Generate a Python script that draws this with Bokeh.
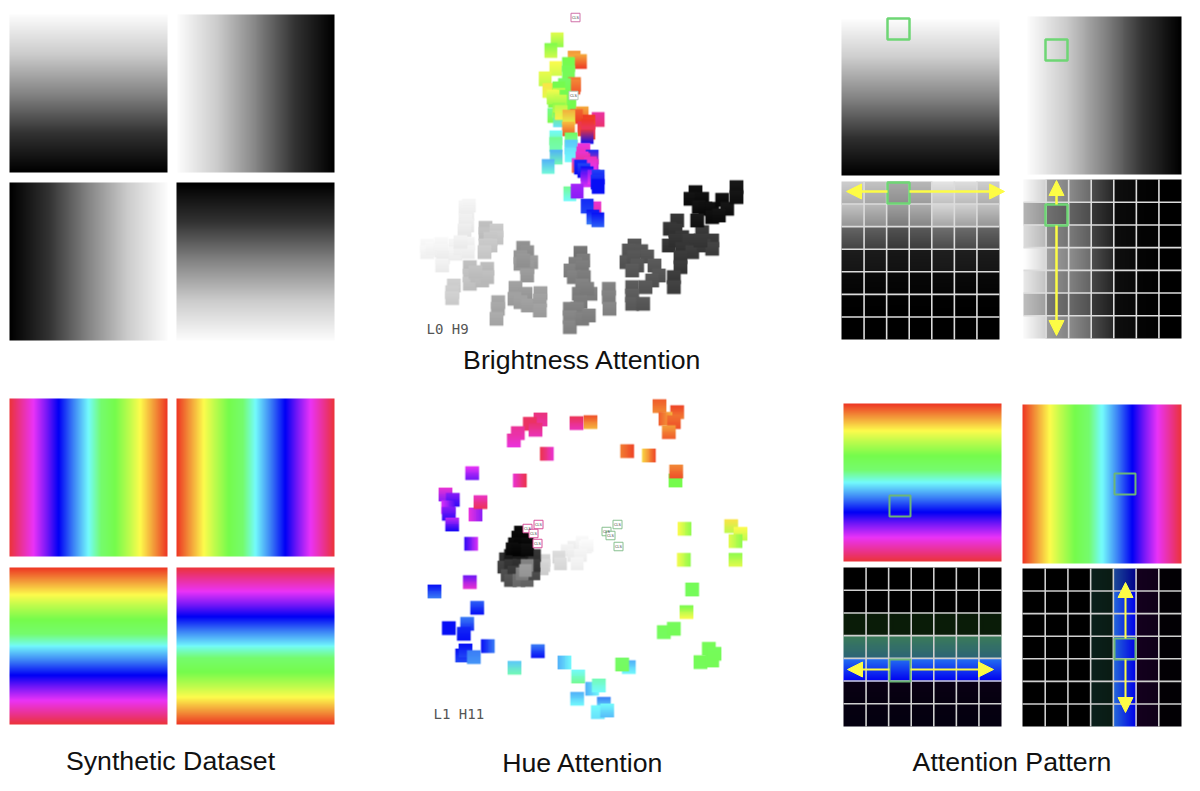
import numpy as np
from bokeh.plotting import figure
from bokeh.models import Range1d, Arrow, NormalHead
from bokeh.core.properties import value
from bokeh.embed import file_html
from bokeh.resources import INLINE

# ---------- colour scales ----------
rainbow_pos = [0.0, 0.085, 0.17, 0.24, 0.33, 0.42, 0.50, 0.60, 0.69, 0.77, 0.85, 0.93, 1.0]
rainbow_rgb = [(238, 56, 36), (243, 155, 58), (254, 251, 76), (190, 251, 76), (117, 251, 76),
               (117, 251, 110), (115, 251, 253), (58, 125, 246), (0, 0, 245), (125, 25, 247),
               (234, 51, 247), (234, 50, 150), (236, 52, 60)]
gray_pos = [0.0, 0.25, 0.5, 0.75, 1.0]
gray_val = [0.99, 0.80, 0.52, 0.20, 0.0]

# ---------- panels: left, top, right, bottom, kind ----------
synthetic_gray = [(9, 14, 167, 172, "down"), (177, 14, 334, 172, "right"),
                  (9, 182, 167, 340, "left"), (176, 182, 334, 340, "up")]
synthetic_hue = [(9, 398, 167, 556, "rev_h"), (176, 398, 334, 556, "fwd_h"),
                 (9, 567, 167, 724, "fwd_v"), (176, 567, 334, 724, "rev_v")]
pattern_gray = [(841, 19, 999, 175, "down"), (1027, 16, 1181, 174, "right")]
pattern_hue = [(843, 403, 1001, 561, "fwd_v"), (1022, 404, 1181, 563, "fwd_h")]

# ---------- attention grids (7 x 7), values from the picture ----------
gl_row_top = [0.85, 0.80, 0.42, 0.12, 0.04, 0.01, 0.0]
gl_row_bot = [0.72, 0.62, 0.28, 0.09, 0.02, 0.0, 0.0]
gl_col = [0.95, 0.90, 0.78, 0.85, 1.05, 1.02, 0.95]
gr_col_left = [0.98, 0.62, 0.55, 0.30, 0.06, 0.02, 0.0]
gr_col_right = [0.82, 0.52, 0.42, 0.16, 0.04, 0.01, 0.0]
gr_row = [1.0, 0.72, 0.88, 1.02, 0.93, 0.76, 1.0]
hl_rows_top = ["#000000", "#000000", "#0a1c08", "#3c7c58", "#2470f0", "#0a0014", "#060010"]
hl_rows_bot = ["#000000", "#000000", "#0a1c08", "#2c6478", "#0000f0", "#060010", "#040010"]
hr_cols_left = ["#000000", "#000000", "#000000", "#0a201c", "#2468d8", "#14001e", "#040006"]
hr_cols_right = ["#000000", "#000000", "#000000", "#0a1c14", "#0000e8", "#10001a", "#020004"]
hr_first_row_left = "#1c4a98"
hr_first_row_right = "#00008c"
grid_gray_left = (841, 181, 999, 339)
grid_gray_right = (1023, 179, 1181, 338)
grid_hue_left = (843, 567, 1001, 726)
grid_hue_right = (1022, 568, 1181, 726)

# ---------- green selection squares: left, top, right, bottom ----------
box_bright = [(887, 18, 909, 39), (887, 182, 909, 203), (1045, 39, 1067, 60), (1045, 204, 1067, 225)]
box_hue = [(889, 495, 910, 516), (889, 659, 910, 681), (1114, 473, 1135, 494), (1114, 638, 1135, 659)]

# ---------- yellow arrows: x0, y0, x1, y1, width ----------
arrows = [(887, 191, 846, 191, 2.5), (909, 191, 1004, 191, 2.5),
          (1056, 204, 1056, 180, 2.5), (1056, 225, 1056, 335, 2.5),
          (889, 669, 847, 669, 2.0), (910, 669, 993, 669, 2.0),
          (1125, 638, 1125, 582, 2.0), (1125, 659, 1125, 712, 2.0)]

# ---------- brightness embedding (crop units): x, y, gray ----------
bright_gray = [
    (165, 620, .95), (175, 615, .95), (170, 640, .93), (165, 660, .93), (170, 675, .92), (162, 690, .92),
    (50, 735, .96), (50, 755, .96), (65, 745, .96), (92, 730, .96), (92, 750, .95), (97, 770, .93), (95, 795, .94),
    (135, 735, .95), (135, 760, .95), (150, 745, .95), (172, 730, .94), (172, 755, .94), (150, 725, .94),
    (225, 682, .74), (225, 700, .75), (258, 690, .78), (258, 712, .78), (240, 715, .77), (225, 735, .78), (240, 735, .78), (222, 755, .79),
    (178, 800, .74), (178, 825, .75), (178, 850, .76), (200, 825, .75), (215, 840, .74), (230, 805, .73), (230, 830, .74), (195, 815, .75),
    (130, 855, .8), (125, 875, .8), (125, 893, .81),
    (338, 742, .56), (350, 755, .56), (330, 770, .58), (362, 785, .6), (330, 790, .6), (350, 800, .6), (350, 825, .6), (338, 780, .58),
    (315, 862, .62), (345, 880, .6), (312, 895, .62), (330, 905, .62), (352, 915, .62), (390, 878, .62), (388, 900, .62), (388, 930, .62),
    (263, 905, .65), (262, 925, .65), (258, 955, .66),
    (510, 757, .45), (518, 780, .47), (495, 790, .48), (480, 810, .5), (515, 800, .48), (490, 830, .5), (520, 830, .48),
    (515, 855, .5), (505, 880, .48), (540, 880, .5), (530, 865, .49), (510, 905, .48),
    (478, 925, .5), (500, 925, .5), (478, 950, .52), (478, 980, .52), (515, 955, .5), (535, 945, .5),
    (595, 865, .5), (595, 890, .5), (597, 925, .52),
    (672, 735, .32), (655, 750, .33), (692, 752, .33), (648, 785, .33), (670, 770, .33), (710, 768, .33), (680, 795, .33), (665, 810, .34),
    (732, 795, .34), (745, 825, .33), (725, 840, .33), (705, 860, .34), (665, 860, .35), (665, 885, .36), (665, 910, .36), (698, 910, .34),
    (800, 660, .2), (778, 685, .2), (795, 690, .2), (815, 710, .2), (775, 735, .2), (795, 720, .2), (835, 720, .22), (815, 745, .2), (845, 755, .23),
    (875, 695, .22), (905, 720, .22), (880, 735, .23), (905, 745, .25), (870, 720, .22), (810, 770, .22), (810, 800, .22), (790, 830, .23), (790, 860, .25),
    (855, 575, .05), (840, 595, .06), (875, 595, .05), (865, 620, .06), (885, 625, .05), (860, 660, .08), (905, 625, .05), (905, 650, .05),
    (935, 598, .05), (950, 625, .07), (925, 645, .06), (978, 560, .08), (978, 590, .07),
]
# x, y, hue at the tile's top, hue at the tile's bottom
bright_hue = [
    (440, 118, .20, .30), (421, 150, .32, .22), (491, 173, .08, .13), (510, 183, .10, .0),
    (436, 204, .17, .22), (474, 192, .33, .36), (474, 218, .36, .37), (404, 235, .19, .24),
    (492, 252, .06, .02), (490, 260, .07, .02), (428, 272, .14, .24), (415, 270, .15, .2), (462, 255, .40, .34), (445, 265, .34, .33),
    (432, 300, .30, .32), (478, 318, .33, .34), (445, 285, .22, .30), (460, 290, .34, .36), (428, 290, .18, .28),
    (450, 305, .22, .30), (430, 345, .44, .32), (445, 330, .30, .22),
    (447, 358, .34, .52), (452, 336, .24, .16), (515, 340, .10, .03), (498, 348, .04, .0), (475, 350, .10, .2),
    (563, 357, .92, .96), (535, 365, .0, .03), (520, 385, .98, .02), (535, 395, .96, .0), (532, 378, .0, .95), (530, 408, 1.0, .68), (474, 385, .12, .02),
    (436, 412, .50, .44), (436, 432, .44, .46), (482, 418, .38, .46), (482, 440, .54, .52),
    (482, 463, .52, .50), (437, 470, .56, .46), (413, 498, .56, .48), (503, 495, .86, .05),
    (520, 450, .87, .90), (517, 460, .88, .92), (545, 470, .66, .92), (520, 480, .9, .98), (515, 475, .88, .95), (545, 498, .9, .8), (540, 490, .9, .85),
    (510, 500, .66, .68), (520, 510, .64, .70), (530, 520, .68, .85), (530, 538, .75, .84), (550, 530, .78, .86), (563, 530, .64, .70), (560, 545, .65, .70), (563, 558, .68, .68),
    (478, 580, .44, .50), (500, 572, .80, .78), (553, 625, .88, .92), (530, 617, .66, .64),
    (547, 650, .68, .60), (562, 658, .68, .62),
]

# ---------- hue embedding (crop units) ----------
hue_gray = [
    (490, 470, .93), (515, 455, .96), (525, 470, .97), (530, 465, .97), (470, 480, .94), (490, 495, .93), (510, 495, .95), (500, 520, .95),
    (445, 500, .85), (450, 520, .86), (400, 510, .82), (400, 525, .84), (395, 535, .82),
    (285, 505, .18), (300, 495, .1), (325, 500, .1), (350, 495, .12), (372, 495, .2), (280, 530, .25), (300, 525, .2), (325, 525, .18),
    (290, 555, .3), (310, 545, .22), (300, 570, .32), (325, 570, .42), (350, 570, .4), (370, 550, .3), (370, 525, .22), (350, 525, .5), (335, 550, .5), (345, 540, .6),
    (330, 425, .02), (322, 440, .02), (340, 440, .02), (312, 460, .03), (330, 460, .02), (350, 460, .03), (305, 475, .04), (325, 478, .03), (350, 478, .05),
]
# x, y, hue start, hue end, gradient direction (0 top-bottom, 1 left-right)
hue_color = [
    (747, 47, .03, .07, 0), (800, 65, .01, .06, 0), (765, 85, .03, .11, 1), (790, 95, .05, .02, 0), (775, 125, .09, .03, 0),
    (650, 182, .06, .01, 1), (715, 195, .14, .01, 1), (795, 270, .33, .33, 0), (797, 243, .07, .02, 0),
    (540, 95, .02, .11, 0), (498, 98, .98, .9, 0), (390, 87, .95, .92, 0), (358, 100, .97, .97, 0),
    (375, 118, .96, .9, 0), (322, 128, .93, .9, 0), (310, 150, .92, .87, 0), (409, 190, .99, .88, 1), (328, 270, .88, .99, 1),
    (185, 248, .85, .76, 0), (105, 312, .88, .78, 0), (127, 328, .78, .72, 0), (113, 350, .84, .74, 1), (115, 370, .78, .72, 0),
    (125, 402, .82, .70, 0), (195, 372, .87, .78, 1), (210, 335, .89, .98, 0), (182, 460, .72, .84, 1), (178, 575, .76, .88, 0),
    (72, 603, .68, .60, 0), (200, 652, .62, .68, 0), (115, 713, .68, .68, 0), (170, 700, .60, .66, 0), (160, 730, .66, .68, 0),
    (232, 767, .68, .60, 1), (155, 795, .68, .64, 0), (165, 780, .68, .64, 0), (190, 800, .60, .58, 0), (382, 782, .60, .68, 0),
    (312, 832, .54, .46, 0), (462, 816, .56, .50, 1), (503, 858, .5, .44, 0), (500, 925, .56, .5, 0), (545, 895, .56, .5, 1),
    (565, 885, .46, .5, 0), (580, 940, .60, .50, 0), (562, 965, .5, .52, 0), (590, 960, .5, .55, 0), (655, 830, .56, .50, 0),
    (635, 822, .40, .38, 0), (760, 725, .37, .38, 0), (790, 715, .37, .36, 0), (870, 815, .36, .37, 0), (905, 810, .37, .36, 0),
    (895, 775, .36, .36, 0), (912, 790, .37, .36, 0), (828, 665, .33, .17, 0), (845, 597, .36, .37, 0), (820, 508, .18, .30, 1),
    (822, 415, .17, .30, 1), (962, 407, .15, .24, 0), (990, 430, .17, .24, 0), (975, 452, .20, .30, 1), (975, 508, .30, .20, 0),
]

# ---------- labelled token boxes: x, y (page units), colour ----------
token_x = [575, 573, 527, 538, 533, 537, 617, 606, 610, 618]
token_y = [17, 95, 528, 524, 533, 543, 524, 531, 535, 546]
token_color = ["#d070a8", "#b8c8b8", "#d8509a", "#d8509a", "#d8509a", "#d8509a",
               "#88c090", "#88c090", "#88c090", "#88c090"]
token_label = "CLS"

# ---------- texts ----------
caption_text = ["Brightness Attention", "Synthetic Dataset", "Hue Attention", "Attention Pattern"]
caption_x = [582, 170, 582.5, 1011.5]
caption_y = [359, 760, 762, 761]
corner_text = ["L0 H9", "L1 H11"]
corner_x = [426, 433]
corner_y = [328, 713]


# ---------- helpers ----------
def hex_rgb(h):
    return np.array([int(h[i:i + 2], 16) for i in (1, 3, 5)], float)


def rainbow(t):
    t = np.asarray(t, float)
    r = np.array(rainbow_rgb, float)
    return np.stack([np.interp(t, rainbow_pos, r[:, i]) for i in range(3)], axis=-1)


def to_rgba(rgb, alpha=None):
    rgb = np.clip(rgb, 0, 255).astype(np.uint32)
    a = np.full(rgb.shape[:2], 255, np.uint32) if alpha is None else alpha.astype(np.uint32)
    return (a << 24) | (rgb[..., 2] << 16) | (rgb[..., 1] << 8) | rgb[..., 0]


def panel_image(kind, n=158):
    u = np.linspace(0, 1, n)
    if kind in ("down", "up", "left", "right"):
        g = np.interp(u, gray_pos, gray_val) * 255
        if kind in ("up", "left"):
            g = g[::-1]
        line = np.stack([g, g, g], axis=-1)
    else:
        line = rainbow(u if kind.startswith("fwd") else 1 - u)
    if kind in ("down", "up", "fwd_v", "rev_v"):
        return np.repeat(line[:, None, :], n, axis=1)
    return np.repeat(line[None, :, :], n, axis=0)


def grid_cells(top, bot, left, right, n=158):
    img = np.zeros((n, n, 3))
    edges = np.linspace(0, n, 8).round().astype(int)
    for r in range(7):
        for c in range(7):
            h, w = edges[r + 1] - edges[r], edges[c + 1] - edges[c]
            vu = np.linspace(0, 1, h)[:, None, None]
            hu = np.linspace(0, 1, w)[None, :, None]
            col = (top(r, c) * (1 - vu) + bot(r, c) * vu) * (1 - hu) + (left(r, c) * (1 - vu) + right(r, c) * vu) * hu
            img[edges[r]:edges[r + 1], edges[c]:edges[c + 1]] = col
    return img


def gray3(v):
    return np.array([v, v, v]) * 255


def tile(c0, c1, horizontal=False, n=16):
    u = np.linspace(0, 1, n)[::-1][:, None, None]  # image rows run bottom to top
    if horizontal:
        u = 1 - u.transpose(1, 0, 2)
    rgb = c0 * (1 - u) + c1 * u
    rgb = np.broadcast_to(rgb, (n, n, 3)).copy()
    edge = np.ones(n)
    edge[0] = edge[-1] = 0.4
    alpha = np.outer(edge, edge) * 255
    return to_rgba(rgb, alpha)


def flip(y):
    return 791 - np.asarray(y, float)


# ---------- figure: data units are page pixels of the 1200 x 791 picture ----------
p = figure(width=1200, height=791, x_range=Range1d(0, 1200), y_range=Range1d(0, 791),
           x_axis_location=None, y_axis_location=None, toolbar_location=None,
           output_backend="svg", min_border=0, outline_line_color=None,
           background_fill_color="white", border_fill_color="white")
p.grid.visible = False


def draw_panel(l, t, r, b, arr):
    p.image_rgba(image=[to_rgba(arr[::-1])], x=[l], y=[791 - b], dw=[r - l], dh=[b - t])


for l, t, r, b, kind in synthetic_gray + synthetic_hue + pattern_gray + pattern_hue:
    draw_panel(l, t, r, b, panel_image(kind))

glt = lambda r, c: gray3(gl_row_top[r] * gl_col[c])
glb = lambda r, c: gray3(gl_row_bot[r] * gl_col[c])
draw_panel(*grid_gray_left, grid_cells(glt, glb, glt, glb))
grl = lambda r, c: gray3(gr_col_left[c] * gr_row[r])
grr = lambda r, c: gray3(gr_col_right[c] * gr_row[r])
draw_panel(*grid_gray_right, grid_cells(grl, grl, grr, grr))
hlt = lambda r, c: hex_rgb(hl_rows_top[r])
hlb = lambda r, c: hex_rgb(hl_rows_bot[r])
draw_panel(*grid_hue_left, grid_cells(hlt, hlb, hlt, hlb))
hrl = lambda r, c: hex_rgb(hr_first_row_left if (r == 0 and c == 4) else hr_cols_left[c])
hrr = lambda r, c: hex_rgb(hr_first_row_right if (r == 0 and c == 4) else hr_cols_right[c])
draw_panel(*grid_hue_right, grid_cells(hrl, hrl, hrr, hrr))

for (l, t, r, b), col in [(grid_gray_left, "#dcdcdc"), (grid_gray_right, "#dcdcdc"),
                          (grid_hue_left, "#cfcfcf"), (grid_hue_right, "#cfcfcf")]:
    xs = np.linspace(l, r, 8)[1:-1]
    ys = flip(np.linspace(t, b, 8)[1:-1])
    p.segment(x0=xs, x1=xs, y0=791 - t, y1=791 - b, line_color=col, line_width=1.6)
    p.segment(x0=l, x1=r, y0=ys, y1=ys, line_color=col, line_width=1.6)


def bright_xy(x, y):
    return 410 + x / 3, y / 3


def hue_xy(x, y):
    return 410 + x / 3, 390 + y / 3


imgs, tx, ty, tw, th = [], [], [], [], []


def add(img, a, b, w, h):
    imgs.append(img); tx.append(a - w / 2); ty.append(791 - b - h / 2); tw.append(w); th.append(h)


for x, y, v in bright_gray:
    a, b = bright_xy(x, y)
    add(tile(gray3(min(v + .02, 1)), gray3(max(v - .02, 0))), a, b, 15, 15)
for x, y, t0, t1 in bright_hue:
    a, b = bright_xy(x, y)
    add(tile(rainbow(t0), rainbow(t1)), a, b, 14, 16)
for x, y, v in hue_gray:
    a, b = hue_xy(x, y)
    add(tile(gray3(min(v + .02, 1)), gray3(max(v - .02, 0))), a, b, 14, 14)
for x, y, t0, t1, d in hue_color:
    a, b = hue_xy(x, y)
    add(tile(rainbow(t0), rainbow(t1), bool(d)), a, b, 15, 15)
p.image_rgba(image=imgs, x=tx, y=ty, dw=tw, dh=th)

p.rect(x=token_x, y=flip(token_y), width=9, height=8.5, fill_color="white",
       line_color=token_color, line_width=1)
p.text(x=token_x, y=flip(token_y), text=[token_label] * len(token_x), text_font=value("Liberation Sans"),
       text_font_size="3.5px", text_color="#333333", text_align="center", text_baseline="middle")

for x0, y0, x1, y1, w in arrows:
    p.add_layout(Arrow(end=NormalHead(size=15, fill_color="#fdfc45", line_color="#fdfc45", line_width=1),
                       x_start=x0, y_start=791 - y0, x_end=x1, y_end=791 - y1,
                       line_color="#fdfc45", line_width=w))

for rects, col, w in [(box_bright, "#6ed674", 2.5), (box_hue, "#6cb578", 2.0)]:
    cx = [(q[0] + q[2]) / 2 for q in rects]
    cy = [791 - (q[1] + q[3]) / 2 for q in rects]
    ww = [q[2] - q[0] for q in rects]
    hh = [q[3] - q[1] for q in rects]
    p.rect(x=cx, y=cy, width=ww, height=hh, fill_color=None, line_color=col, line_width=w)

p.text(x=caption_x, y=flip(caption_y), text=caption_text, text_font=value("Liberation Sans"),
       text_font_size="26.7px", text_color="#111111", text_align="center", text_baseline="middle")
p.text(x=corner_x, y=flip(corner_y), text=corner_text, text_font=value("DejaVu Sans Mono"),
       text_font_size="14px", text_color="#555555", text_align="left", text_baseline="middle")

open("out.html", "w").write(file_html(p, INLINE))
